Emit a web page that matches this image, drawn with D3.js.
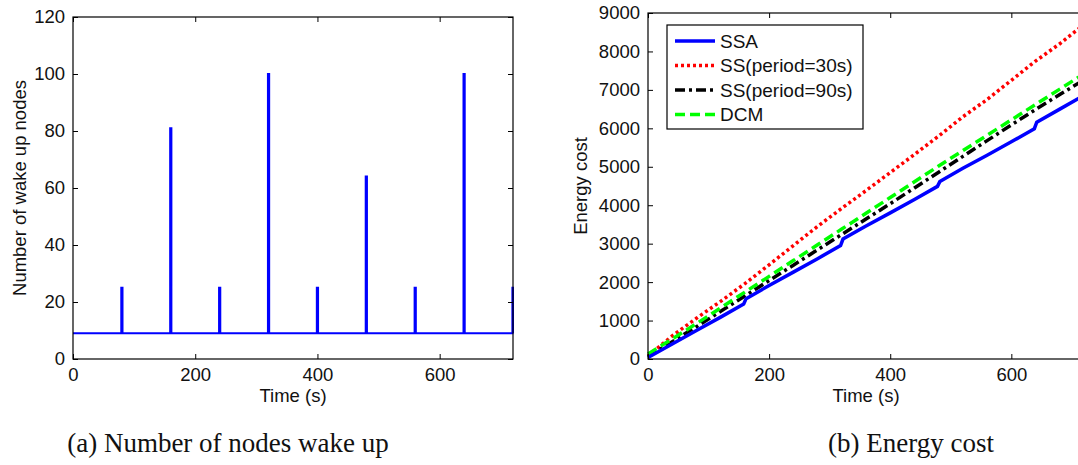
<!DOCTYPE html>
<html>
<head>
<meta charset="utf-8">
<script src="https://cdn.jsdelivr.net/npm/d3@7"></script>
<style>
  body { margin: 0; background: #fff; }
  svg { display: block; }
  text { font-family: "Liberation Sans", Arial, sans-serif; fill: #111; }
  text.caption { font-family: "Liberation Serif", "Times New Roman", serif; }
</style>
</head>
<body>
<svg id="svg" width="1078" height="465"></svg>
<script>
// (a) wake up nodes
const baseNodes = 9;
const spikeTimes = [80, 160, 240, 320, 400, 480, 560, 640, 720];
const spikeValues = [25, 81, 25, 100, 25, 64, 25, 100, 25];
const xTicksA = [0, 200, 400, 600];
const yTicksA = [0, 20, 40, 60, 80, 100, 120];

// (b) energy cost
const ssaTime = [0, 40, 80, 120, 158, 162, 200, 240, 280, 318, 322, 360, 400, 440, 478, 482, 520, 560, 600, 638, 642, 680, 720];
const ssaCost = [40, 390, 740, 1090, 1430, 1570, 1910, 2260, 2610, 2950, 3120, 3460, 3800, 4150, 4490, 4620, 4960, 5300, 5650, 5990, 6160, 6500, 6860];
const ssTime = [0, 40, 80, 120, 160, 200, 240, 280, 320, 360, 400, 440, 480, 520, 560, 600, 640, 680, 720];
const ss30Cost = [80, 600, 1060, 1500, 1960, 2450, 2950, 3450, 3920, 4380, 4850, 5320, 5800, 6300, 6750, 7250, 7750, 8200, 8700];
const ss90Cost = [60, 450, 840, 1240, 1640, 2040, 2440, 2840, 3240, 3640, 4040, 4450, 4860, 5270, 5680, 6090, 6490, 6880, 7260];
const dcmCost = [130, 520, 920, 1330, 1740, 2150, 2560, 2970, 3380, 3790, 4200, 4610, 5020, 5420, 5820, 6220, 6620, 7020, 7420];
const xTicksB = [0, 200, 400, 600];
const yTicksB = [0, 1000, 2000, 3000, 4000, 5000, 6000, 7000, 8000, 9000];

const legendNames = ["SSA", "SS(period=30s)", "SS(period=90s)", "DCM"];

const svg = d3.select("#svg");
const fmt = d3.format("d");

function frame(g, x, y, xt, yt, w, h) {
  g.append("g").attr("transform", `translate(0,${h})`)
    .call(d3.axisBottom(x).tickValues(xt).tickFormat(fmt).tickSizeInner(-5).tickSizeOuter(0).tickPadding(9))
    .call(a => a.select(".domain").remove());
  g.append("g").call(d3.axisTop(x).tickValues(xt).tickSizeInner(-5).tickSizeOuter(0).tickFormat(""))
    .call(a => a.select(".domain").remove());
  g.append("g")
    .call(d3.axisLeft(y).tickValues(yt).tickFormat(fmt).tickSizeInner(-5).tickSizeOuter(0).tickPadding(8))
    .call(a => a.select(".domain").remove());
  g.append("g").attr("transform", `translate(${w},0)`)
    .call(d3.axisRight(y).tickValues(yt).tickSizeInner(-5).tickSizeOuter(0).tickFormat(""))
    .call(a => a.select(".domain").remove());
  g.selectAll(".tick line").attr("stroke", "#000");
  g.selectAll(".tick text").attr("font-size", 18.5).attr("fill", "#111");
  g.append("rect").attr("width", w).attr("height", h)
    .attr("fill", "none").attr("stroke", "#000").attr("stroke-width", 1.2);
}

// ---- chart (a)
{
  const m = { left: 73, top: 17 }, w = 440, h = 342;
  const g = svg.append("g").attr("transform", `translate(${m.left},${m.top})`);
  const x = d3.scaleLinear().domain([0, 720]).range([0, w]);
  const y = d3.scaleLinear().domain([0, 120]).range([h, 0]);

  // step series: flat baseline with a short burst at every spike time
  const pts = [[0, baseNodes]];
  spikeTimes.forEach((t, i) => {
    pts.push([t - 1, baseNodes], [t - 1, spikeValues[i]], [Math.min(t + 1, 720), spikeValues[i]], [Math.min(t + 1, 720), baseNodes]);
  });
  pts.push([720, baseNodes]);

  g.append("path").datum(pts)
    .attr("fill", "none").attr("stroke", "#0000ff").attr("stroke-width", 2)
    .attr("d", d3.line().x(d => x(d[0])).y(d => y(d[1])));

  frame(g, x, y, xTicksA, yTicksA, w, h);

  svg.append("text").attr("x", m.left + w / 2).attr("y", 402).attr("text-anchor", "middle")
    .attr("font-size", 18.5).text("Time (s)");
  svg.append("text").attr("transform", `translate(26,${m.top + h / 2}) rotate(-90)`)
    .attr("text-anchor", "middle").attr("font-size", 18.5).text("Number of wake up nodes");
}

// ---- chart (b)
{
  const m = { left: 648, top: 13 }, w = 436, h = 346;
  const g = svg.append("g").attr("transform", `translate(${m.left},${m.top})`);
  const x = d3.scaleLinear().domain([0, 720]).range([0, w]);
  const y = d3.scaleLinear().domain([0, 9000]).range([h, 0]);
  const line = d3.line().x(d => x(d[0])).y(d => y(d[1]));

  const series = [
    { pts: ssaTime.map((t, i) => [t, ssaCost[i]]), color: "#0000ff", dash: null },
    { pts: ssTime.map((t, i) => [t, ss30Cost[i]]), color: "#ff0000", dash: "3,3" },
    { pts: ssTime.map((t, i) => [t, ss90Cost[i]]), color: "#000000", dash: "10,4,3,4" },
    { pts: ssTime.map((t, i) => [t, dcmCost[i]]), color: "#00ff00", dash: "10,5" }
  ];
  // draw order so that SSA sits on top like the original
  [1, 2, 3, 0].forEach(k => {
    const s = series[k];
    g.append("path").datum(s.pts)
      .attr("fill", "none").attr("stroke", s.color).attr("stroke-width", 3.5)
      .attr("stroke-dasharray", s.dash)
      .attr("d", line);
  });

  frame(g, x, y, xTicksB, yTicksB, w, h);

  // legend
  const lg = svg.append("g").attr("transform", "translate(667,25)");
  lg.append("rect").attr("width", 196).attr("height", 104)
    .attr("fill", "#fff").attr("stroke", "#000").attr("stroke-width", 1.2);
  legendNames.forEach((name, i) => {
    const s = series[i];
    const yy = 16 + i * 24.5;
    lg.append("line").attr("x1", 8).attr("x2", 48).attr("y1", yy).attr("y2", yy)
      .attr("stroke", s.color).attr("stroke-width", 3.5).attr("stroke-dasharray", s.dash);
    lg.append("text").attr("x", 53).attr("y", yy + 6.5).attr("font-size", 19).text(name);
  });

  svg.append("text").attr("x", m.left + w / 2).attr("y", 402).attr("text-anchor", "middle")
    .attr("font-size", 18.5).text("Time (s)");
  svg.append("text").attr("transform", `translate(587,${m.top + h / 2}) rotate(-90)`)
    .attr("text-anchor", "middle").attr("font-size", 18.5).text("Energy cost");
}

// captions
svg.append("text").attr("class", "caption").attr("x", 228).attr("y", 452).attr("text-anchor", "middle")
  .attr("font-size", 27).text("(a) Number of nodes wake up");
svg.append("text").attr("class", "caption").attr("x", 911).attr("y", 452).attr("text-anchor", "middle")
  .attr("font-size", 27).text("(b) Energy cost");
</script>
</body>
</html>
